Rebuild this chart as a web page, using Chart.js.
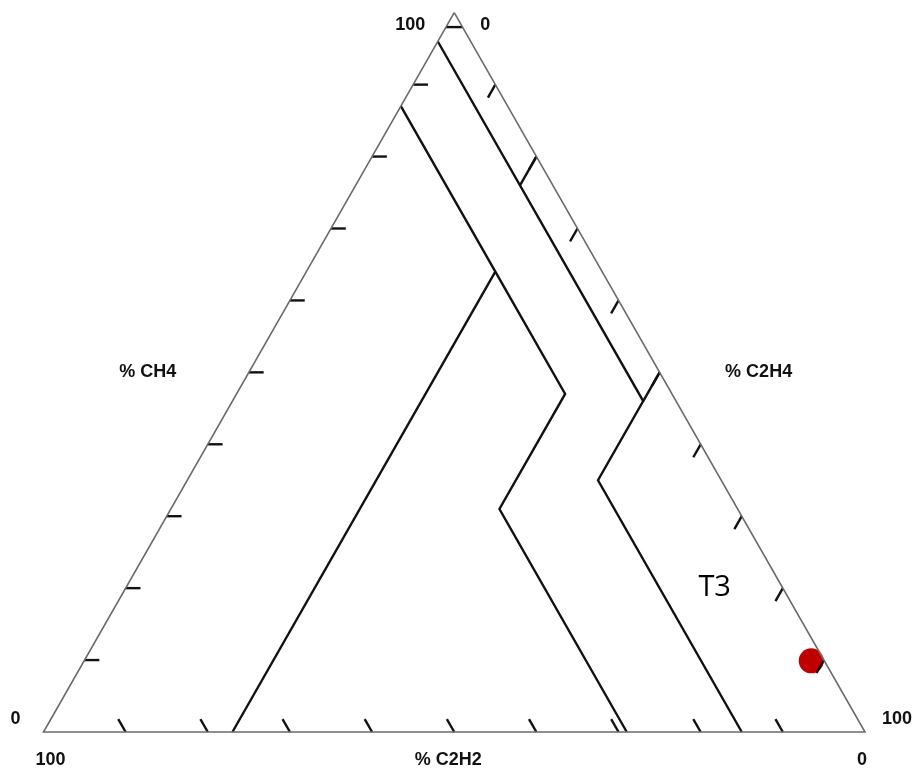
<!DOCTYPE html>
<html>
<head>
<meta charset="utf-8">
<script src="https://cdn.jsdelivr.net/npm/chart.js@4"></script>
<style>
  html, body { margin: 0; padding: 0; background: #fff; }
  canvas { display: block; }
</style>
</head>
<body>
<canvas id="duval" width="914" height="769"></canvas>
<script>
// --- Data (ternary points as [CH4, C2H4, C2H2] in %) ---
const triangleEdge = [[100, 0, 0], [0, 0, 100], [0, 100, 0], [100, 0, 0]];

// zone boundaries
const pdLine = [[98, 0, 2], [98, 2, 0]];
const t1t2Line = [[80, 20, 0], [76, 20, 4]];
const t2t3Line = [[50, 50, 0], [46, 50, 4]];
const thermalLine = [[96, 0, 4], [46, 50, 4], [35, 50, 15], [0, 85, 15]];
const d1Line = [[87, 0, 13], [64, 23, 13], [47, 40, 13], [31, 40, 29], [0, 71, 29]];
const d1d2Line = [[64, 23, 13], [0, 23, 77]];

const tickSteps = [10, 20, 30, 40, 50, 60, 70, 80, 90];
const tickLen = 1.8;

// the measured sample
const samplePoint = [9.9, 88.5, 1.6];

const zoneLabels = [{ text: 'T3', at: [20, 71.7] }];

// --- Helpers ---
// ternary -> chart data units: x = C2H4 + CH4/2, y = CH4
function tern(p) {
  return { x: p[1] + p[0] / 2, y: p[0] };
}

function lineSet(points, color, width) {
  return {
    data: points.map(tern),
    showLine: true,
    borderColor: color,
    borderWidth: width,
    pointRadius: 0,
    fill: false,
    clip: false,
    borderCapStyle: 'butt',
    borderJoinStyle: 'miter'
  };
}

// ticks: left edge (const CH4), bottom (const C2H2), right (const C2H4)
const tickSets = [];
tickSteps.forEach(k => {
  tickSets.push(lineSet([[k, 0, 100 - k], [k, tickLen, 100 - k - tickLen]], '#111', 2.4));
  tickSets.push(lineSet([[0, 100 - k, k], [tickLen, 100 - k - tickLen, k]], '#111', 2.4));
  tickSets.push(lineSet([[100 - k, k, 0], [100 - k - tickLen, k, tickLen]], '#111', 2.4));
});

const datasets = [
  lineSet(triangleEdge, '#6b6b6b', 1.6),
  ...tickSets,
  lineSet(pdLine, '#111', 2.4),
  lineSet(t1t2Line, '#111', 2.4),
  lineSet(t2t3Line, '#111', 2.4),
  lineSet(thermalLine, '#111', 2.4),
  lineSet(d1Line, '#111', 2.4),
  lineSet(d1d2Line, '#111', 2.4),
  {
    data: [tern(samplePoint)],
    showLine: false,
    pointRadius: 12.5,
    pointBackgroundColor: '#c00000',
    pointBorderColor: '#c00000',
    pointBorderWidth: 0,
    clip: false
  }
];

// axis text, anchored to ternary points with a pixel offset
const axisLabels = [
  { text: '100', at: [100, 0, 0], dx: -44, dy: 12 },
  { text: '0', at: [100, 0, 0], dx: 31, dy: 12 },
  { text: '% CH4', at: [50, 0, 50], dx: -101, dy: 0 },
  { text: '% C2H4', at: [50, 50, 0], dx: 99, dy: 0 },
  { text: '0', at: [0, 0, 100], dx: -28, dy: -13 },
  { text: '100', at: [0, 0, 100], dx: 7, dy: 28 },
  { text: '% C2H2', at: [0, 50, 50], dx: -6, dy: 28 },
  { text: '100', at: [0, 100, 0], dx: 32, dy: -13 },
  { text: '0', at: [0, 100, 0], dx: -3, dy: 28 }
];

const textPlugin = {
  id: 'ternaryText',
  afterDatasetsDraw(chart) {
    const { ctx, scales } = chart;
    const toPx = p => {
      const d = tern(p);
      return [scales.x.getPixelForValue(d.x), scales.y.getPixelForValue(d.y)];
    };
    ctx.save();
    ctx.textAlign = 'center';
    ctx.textBaseline = 'middle';
    ctx.fillStyle = '#111';
    ctx.font = 'bold 18px "Liberation Sans", Arial, sans-serif';
    axisLabels.forEach(l => {
      const [x, y] = toPx(l.at);
      ctx.fillText(l.text, x + l.dx, y + l.dy);
    });
    ctx.font = '29px "Open Sans", sans-serif';
    ctx.fillStyle = '#000';
    zoneLabels.forEach(l => {
      const [x, y] = toPx(l.at);
      ctx.fillText(l.text, x, y);
    });
    ctx.restore();
  }
};

new Chart(document.getElementById('duval').getContext('2d'), {
  type: 'scatter',
  data: { datasets },
  options: {
    responsive: false,
    animation: false,
    layout: { padding: { left: 43.5, right: 49, top: 12.7, bottom: 37 } },
    scales: {
      x: { type: 'linear', min: 0, max: 100, display: false },
      y: { type: 'linear', min: 0, max: 100, display: false }
    },
    plugins: {
      legend: { display: false },
      tooltip: { enabled: false },
      title: { display: false }
    }
  },
  plugins: [textPlugin]
});
</script>
</body>
</html>
